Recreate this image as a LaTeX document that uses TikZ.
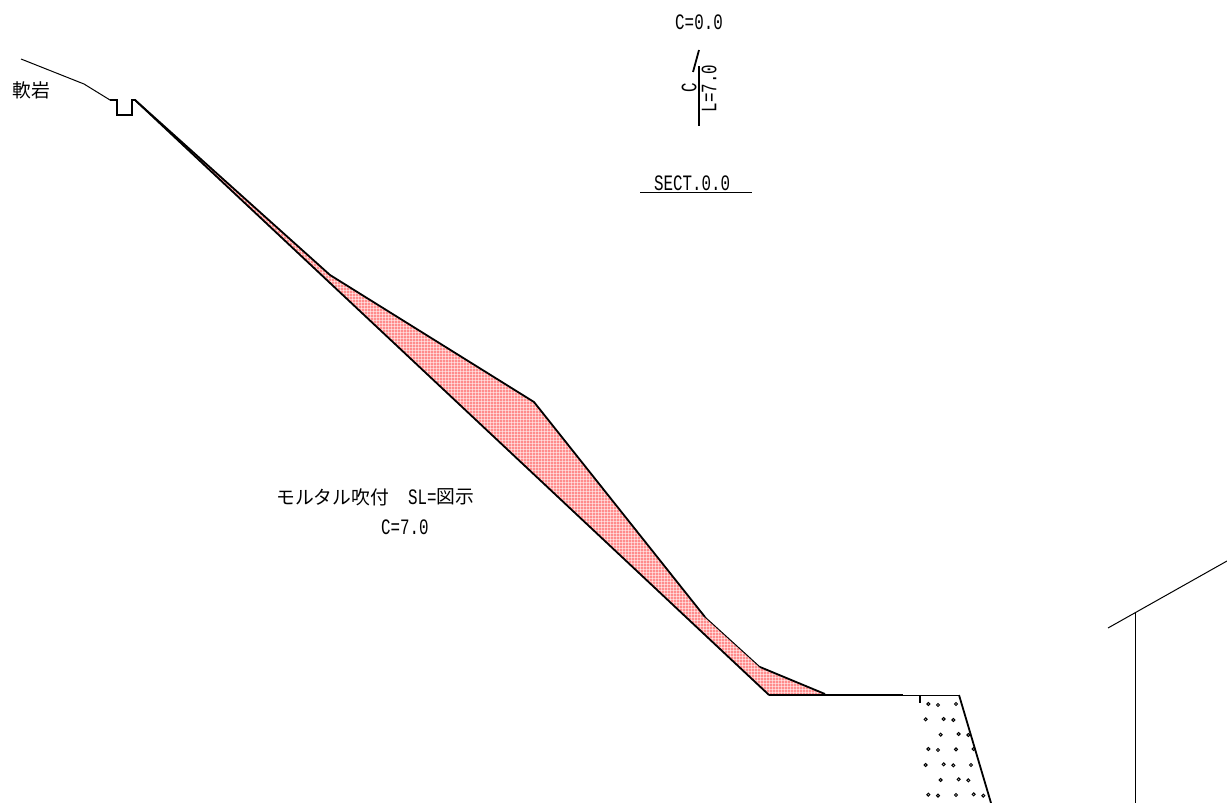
\documentclass[tikz,border=0pt]{standalone}
\usepackage{fontspec}
\newfontfamily\jpfont{Noto Sans CJK JP}
\newfontfamily\monofont[FakeStretch=0.72]{Liberation Mono}
\tikzset{
  x=1pt,y=-1pt,
  lat/.style={inner sep=0pt,font=\monofont\fontsize{22}{22}\selectfont},
  jp/.style={inner sep=0pt,font=\jpfont\fontsize{18.8}{18.8}\selectfont},
  thinline/.style={line width=1pt,black},
  midline/.style={line width=1.8pt,black},
  heavyline/.style={line width=2.6pt,black},
  grain/.style={line width=1pt,black}
}
\definecolor{shot}{HTML}{FF8C8C}
\begin{document}
\begin{tikzpicture}
\useasboundingbox (0,0) rectangle (1227,803);
% shotcrete area
\begin{scope}
  \clip (135,100) -- (330,275) -- (534,402) -- (705,617) -- (760,667) -- (825,694) -- (769,695) -- cycle;
  \fill[shot] (130,95) rectangle (830,700);
  \foreach \k in {0,...,234} {\draw[white,opacity=0.5,line width=1pt] ({130+3*\k},95) -- ({130+3*\k},700);}
  \foreach \k in {0,...,202} {\draw[white,opacity=0.5,line width=1pt] (130,{95+3*\k}) -- (830,{95+3*\k});}
\end{scope}
% ground and ditch
\draw[thinline] (21,59) -- (84,84) -- (110,100) -- (116,100);
\draw[midline] (110,100) -- (117,100) -- (117,115) -- (132,115) -- (132,100) -- (135,100) -- (769,695);
% overlay surface
\draw[midline,line join=round] (135,100) -- (330,275) -- (534,402) -- (705,617);
\draw[thinline] (705,617) -- (760,667);
\draw[midline] (760,667) -- (825,694);
\draw[heavyline] (769,695) -- (903,695);
\draw[thinline] (903,695) -- (959,695);
\draw[midline] (959,695) -- (991,803);
\draw[midline] (920,695) -- (920,703);
% gravel
\foreach \a/\b in {565/192,594/195,648/192,557/238,611/237,640/240,602/284,656/282,685/285,565/327,594/330,648/328,701/327,557/375,611/373,640/376,693/375,602/420,656/418,685/421,565/464,594/467,648/465,701/463,730/467}
  \draw[grain] ({740+\a/3},{640+\b/3}) circle (1.5);
% building
\draw[thinline] (1108,628) -- (1227,561);
\draw[thinline] (1135,612) -- (1135,803);
% section marks
\draw[midline] (699,66) -- (699,126);
\draw[midline] (699,50) -- (693,72);
\draw[thinline] (640,192) -- (752,192);
% texts
\node[lat] (c0) at (699,22) {C=0.0};
\node[lat,rotate=90] (cv) at (689,88) {C};
\node[lat,rotate=90] (lv) at (709,88.5) {L=7.0};
\node[lat,anchor=west] (sect) at (654,183) {SECT.0.0};
\node[jp,anchor=west] (rock) at (12.5,90) {軟岩};
\node[jp,anchor=west] (mortar) at (276,497) {モルタル吹付};
\node[lat,anchor=west] (sl) at (408,497) {SL=};
\node[jp,anchor=west] (fig) at (436,497) {図示};
\node[lat,anchor=west] (c7) at (381,527) {C=7.0};
\end{tikzpicture}
\end{document}
